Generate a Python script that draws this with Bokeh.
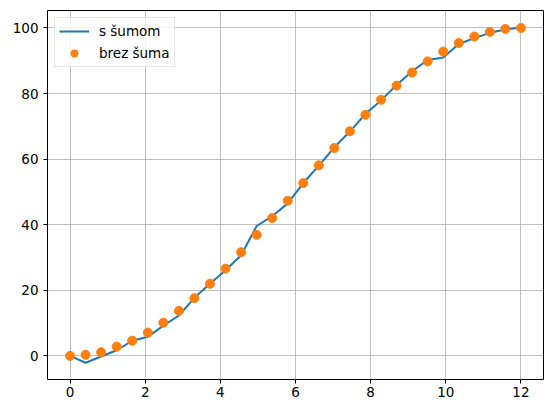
from bokeh.plotting import figure
from bokeh.models import Range1d, FixedTicker, Legend, LegendItem
from bokeh.embed import file_html
from bokeh.resources import INLINE

x = [0.0, 0.414, 0.828, 1.241, 1.655, 2.069, 2.483, 2.897, 3.310, 3.724,
     4.138, 4.552, 4.966, 5.379, 5.793, 6.207, 6.621, 7.034, 7.448, 7.862,
     8.276, 8.690, 9.103, 9.517, 9.931, 10.345, 10.759, 11.172, 11.586, 12.0]
s_sumom = [0.0, -2.1, -0.2, 1.7, 4.6, 5.8, 9.2, 12.3, 17.7, 22.0,
           26.1, 30.7, 39.6, 42.6, 46.5, 52.7, 58.0, 63.6, 68.4, 73.8,
           77.9, 82.6, 86.8, 90.2, 91.0, 95.1, 96.9, 98.5, 99.5, 100.2]
brez_suma = [0.0, 0.3, 1.1, 2.8, 4.6, 7.1, 10.1, 13.7, 17.6, 22.0,
             26.6, 31.6, 36.9, 42.0, 47.3, 52.7, 58.1, 63.4, 68.5, 73.5,
             78.1, 82.4, 86.4, 89.8, 92.8, 95.4, 97.4, 98.8, 99.7, 100.0]
x_ticks = [0, 2, 4, 6, 8, 10, 12]
y_ticks = [0, 20, 40, 60, 80, 100]
labels = ["s šumom", "brez šuma"]

FONT = "DejaVu Sans"
FSIZE = "13.5px"

xmin, xmax = min(x), max(x)
xm = (xmax - xmin) * 0.05
allv = s_sumom + brez_suma
ymin, ymax = min(allv), max(allv)
ym = (ymax - ymin) * 0.05

p = figure(width=544, height=405, output_backend="svg", toolbar_location=None,
           x_range=Range1d(xmin - xm, xmax + xm), y_range=Range1d(ymin - ym, ymax + ym),
           min_border_left=47, min_border_right=1, min_border_top=10, min_border_bottom=26)

p.background_fill_color = "white"
p.border_fill_color = "white"
p.outline_line_color = "black"
p.outline_line_width = 1
p.outline_line_alpha = 1

for ax in (p.xaxis[0], p.yaxis[0]):
    ax.axis_line_color = None
    ax.major_tick_line_color = "black"
    ax.major_tick_out = 4
    ax.major_tick_in = 0
    ax.minor_tick_line_color = None
    ax.major_label_text_font = FONT
    ax.major_label_text_font_size = FSIZE
    ax.major_label_text_color = "black"
p.xaxis.ticker = FixedTicker(ticks=x_ticks)
p.yaxis.ticker = FixedTicker(ticks=y_ticks)
p.xaxis.major_label_standoff = 3
p.yaxis.major_label_standoff = 5

p.xgrid.ticker = FixedTicker(ticks=x_ticks)
p.ygrid.ticker = FixedTicker(ticks=y_ticks)
p.grid.grid_line_color = "#b0b0b0"
p.grid.grid_line_width = 0.8

r1 = p.line(x, s_sumom, line_color="#1f77b4", line_width=2)
r2 = p.scatter(x, brez_suma, size=9, fill_color="#ff7f0e", line_color="#ff7f0e")

legend = Legend(items=[LegendItem(label=labels[0], renderers=[r1]),
                       LegendItem(label=labels[1], renderers=[r2])],
                location="top_left")
legend.margin = 7
legend.padding = 4
legend.spacing = 4
legend.glyph_width = 30
legend.glyph_height = 18
legend.label_height = 18
legend.label_standoff = 10
legend.label_text_font = FONT
legend.label_text_font_size = FSIZE
legend.label_text_color = "black"
legend.border_line_color = "#cccccc"
legend.border_line_width = 1
legend.background_fill_color = "white"
legend.background_fill_alpha = 0.8
p.add_layout(legend, "center")

open("out.html", "w").write(file_html(p, INLINE))
